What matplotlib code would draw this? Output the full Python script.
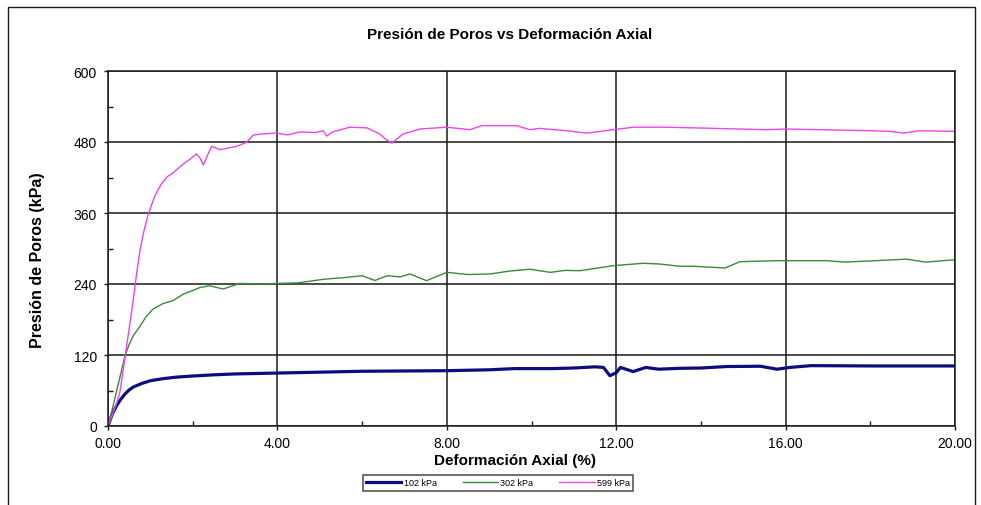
import matplotlib
matplotlib.use("Agg")
import matplotlib.pyplot as plt
from matplotlib.patches import Rectangle
from matplotlib.ticker import MultipleLocator, FormatStrFormatter

plt.rcParams['font.family'] = ['Liberation Sans', 'DejaVu Sans']

# Axial strain (%) and pore pressure (kPa) for each confining pressure
strain_102 = [0, 0.1, 0.2, 0.3, 0.4, 0.5, 0.6, 0.8, 1.0, 1.3, 1.6, 2.0, 2.5, 3.0, 4.0,
              5.0, 6.0, 7.0, 8.0, 9.0, 9.6, 10.5, 11.0, 11.5, 11.7, 11.85, 12.0, 12.1,
              12.4, 12.7, 13.0, 13.5, 14.0, 14.6, 15.4, 15.8, 16.1, 16.6, 18.0, 20.0]
pore_102 = [0, 20, 34, 45, 54, 61, 66, 72, 76.5, 80, 82.5, 84.5, 86.5, 88, 89.5,
            91, 92.5, 93, 93.5, 95, 97, 97, 98, 100, 99, 85, 90, 99,
            92, 99, 96, 97.5, 98, 100.5, 101, 96, 99, 102, 101.5, 101.5]

strain_302 = [0, 0.1, 0.2, 0.3, 0.4, 0.5, 0.6, 0.76, 0.9, 1.07, 1.3, 1.54, 1.78, 2.0,
              2.17, 2.4, 2.72, 2.9, 3.12, 3.6, 4.0, 4.5, 5.09, 5.6, 6.0, 6.3, 6.6, 6.9,
              7.13, 7.52, 8.0, 8.5, 9.02, 9.5, 9.96, 10.44, 10.8, 11.15, 11.93, 12.64,
              13.03, 13.5, 13.82, 14.57, 14.92, 15.79, 16.97, 17.4, 18.0, 18.86, 19.3, 20.0]
pore_302 = [0, 28, 58, 88, 118, 138, 153, 169, 185, 198, 207, 212, 223, 229,
            234, 237, 231.5, 236, 241, 240, 241, 242, 248, 251, 254, 246, 254, 252,
            257, 245.6, 259.7, 256, 257, 262, 265, 259.7, 263, 262.5, 271, 275,
            273.8, 270, 270, 267, 277.7, 279.4, 279.4, 277, 279, 282, 277, 281]

strain_599 = [0, 0.1, 0.2, 0.28, 0.4, 0.5, 0.6, 0.68, 0.76, 0.85, 0.95, 1.1, 1.25, 1.39,
              1.5, 1.6, 1.78, 1.94, 2.09, 2.18, 2.25, 2.35, 2.45, 2.64, 2.85, 3.04, 3.27,
              3.43, 3.7, 3.98, 4.25, 4.53, 4.9, 5.08, 5.16, 5.3, 5.71, 6.11, 6.42, 6.55,
              6.7, 6.85, 6.97, 7.37, 8.0, 8.55, 8.82, 9.65, 9.96, 10.2, 10.83, 11.3,
              11.93, 12.4, 13.2, 14.0, 15.55, 16.0, 18.0, 18.46, 18.78, 19.15, 20.0]
pore_599 = [0, 18, 38, 57, 115, 165, 215, 260, 299, 330, 358, 388, 408, 421,
            426, 432, 443, 451, 460, 452, 441, 458, 472.7, 467, 470, 472.7, 479.5,
            491.8, 494, 495, 492, 497, 496, 499, 490, 497, 505, 504, 493.5, 485,
            478, 487, 493.5, 502, 505, 500.8, 507.6, 507.6, 500.8, 503, 499, 495,
            500.8, 505, 505, 503.6, 500.8, 502, 499, 498, 495, 499, 498]

series_labels = ['102 kPa', '302 kPa', '599 kPa']
series_colors = ['#0c0c80', '#3a8a3a', '#ec44ec']

fig = plt.figure(figsize=(9.81, 5.06), dpi=100)
ax = fig.add_axes([108 / 981, 79 / 506, 847 / 981, 355 / 506])

ax.plot(strain_102, pore_102, color=series_colors[0], lw=2.3, label=series_labels[0],
        solid_joinstyle='round')
ax.plot(strain_302, pore_302, color=series_colors[1], lw=1.0, label=series_labels[1])
ax.plot(strain_599, pore_599, color=series_colors[2], lw=1.0, label=series_labels[2])

ax.set_xlim(0, 20)
ax.set_ylim(0, 600)
ax.xaxis.set_major_locator(MultipleLocator(4))
ax.xaxis.set_minor_locator(MultipleLocator(2))
ax.yaxis.set_major_locator(MultipleLocator(120))
ax.yaxis.set_minor_locator(MultipleLocator(60))
ax.xaxis.set_major_formatter(FormatStrFormatter('%.2f'))

ax.grid(True, which='major', color='#1a1a1a', lw=1.1)
ax.set_axisbelow(True)
for sp in ax.spines.values():
    sp.set_color('#1a1a1a')
    sp.set_linewidth(1.1)

ax.tick_params(which='major', direction='out', length=3, width=1.0,
               labelsize=10, pad=4, color='#1a1a1a')
ax.tick_params(which='minor', direction='in', length=3.5, width=1.0, color='#1a1a1a')
ax.tick_params(axis='y', which='major', pad=5)

ax.set_xlabel('Deformación Axial (%)', fontsize=11, fontweight='bold')
ax.xaxis.set_label_coords((515 - 108) / 847, -0.077)
ax.set_ylabel('Presión de Poros (kPa)', fontsize=11.5, fontweight='bold')
ax.yaxis.set_label_coords((45 - 108) / 847, (427 - 260) / 355)
fig.text(510 / 981, 1 - 35 / 506, 'Presión de Poros vs Deformación Axial',
         ha='center', va='center', fontsize=11, fontweight='bold')

leg = fig.legend(loc='center', bbox_to_anchor=(498 / 981, 1 - 484 / 506), ncol=3,
                 fontsize=6.5, frameon=True, fancybox=False, edgecolor='#1a1a1a',
                 handlelength=3.9, handletextpad=0.25, columnspacing=2.9,
                 borderpad=0.35)
leg.get_frame().set_linewidth(1.1)

# outer chart frame
fig.patches.append(Rectangle((8 / 981, -0.05), (975 - 8) / 981, 1 - 8 / 506 + 0.05,
                             transform=fig.transFigure, fill=False,
                             edgecolor='#1a1a1a', lw=1.0))

fig.savefig('out.png', dpi=100)
